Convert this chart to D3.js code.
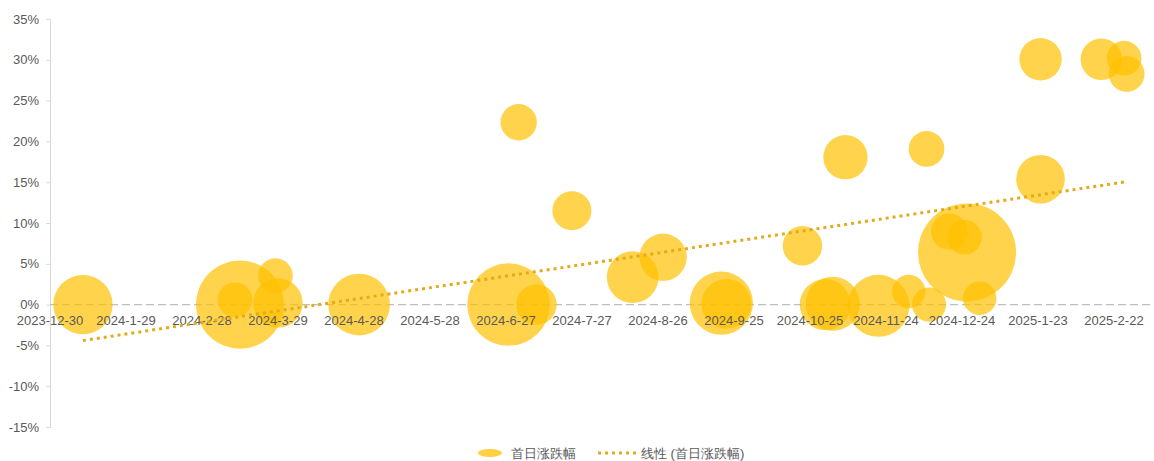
<!DOCTYPE html>
<html>
<head>
<meta charset="utf-8">
<script src="https://cdn.jsdelivr.net/npm/d3@7"></script>
<style>
  body { margin: 0; background: #fff; }
  text { font-family: "Liberation Sans", Arial, sans-serif; fill: #595959; }
</style>
</head>
<body>
<script>
// listing dates, first-day change (%), bubble size
const dates = ["2024-1-12", "2024-3-14", "2024-3-12", "2024-3-28", "2024-3-29", "2024-4-30",
  "2024-7-2", "2024-7-23", "2024-6-28", "2024-7-9", "2024-8-16", "2024-8-28",
  "2024-9-20", "2024-9-22", "2024-10-22", "2024-11-8", "2024-12-10", "2024-10-31",
  "2024-11-3", "2024-11-21", "2024-12-3", "2024-12-11", "2024-12-26", "2024-12-19",
  "2024-12-25", "2024-12-31", "2025-1-24", "2025-1-24", "2025-2-17", "2025-2-26", "2025-2-27"];
const changes = [0.0, 0.0, 0.6, 3.55, 0.2, 0.0,
  22.35, 11.5, 0.0, 0.0, 3.36, 5.8,
  0.17, 0.1, 7.2, 18.06, 19.08, 0.0,
  0.1, -0.15, 1.6, 0.0, 6.4, 8.95,
  8.26, 0.78, 30.07, 15.37, 30.07, 30.2, 28.27];
const sizes = [8.8, 19.4, 3.0, 3.0, 6.1, 9.5,
  3.3, 3.8, 17.0, 4.1, 6.7, 5.6,
  10.0, 6.2, 3.9, 4.9, 3.2, 6.5,
  7.3, 9.6, 2.8, 2.9, 24.0, 3.3,
  3.0, 2.8, 4.5, 5.9, 4.3, 3.0, 3.2];

const xTickLabels = ["2023-12-30", "2024-1-29", "2024-2-28", "2024-3-29", "2024-4-28", "2024-5-28",
  "2024-6-27", "2024-7-27", "2024-8-26", "2024-9-25", "2024-10-25", "2024-11-24",
  "2024-12-24", "2025-1-23", "2025-2-22"];
const yTicks = [-15, -10, -5, 0, 5, 10, 15, 20, 25, 30, 35];

// linear trend endpoints (first / last listing date)
const trendDates = ["2024-1-12", "2025-2-27"];
const trendValues = [-4.41, 15.07];

const seriesName = "首日涨跌幅";

const W = 1154, H = 461;
const parse = d3.timeParse("%Y-%m-%d");

const data = dates.map((d, i) => ({date: parse(d), v: changes[i], s: sizes[i]}));

const x = d3.scaleTime()
  .domain([parse("2023-12-30"), parse("2025-3-24")])
  .range([50, 1190]);
const y = d3.scaleLinear().domain([-15, 35]).range([427, 19]);
const r = d3.scaleSqrt().domain([0, 24]).range([0, 49]);

const svg = d3.select("body").append("svg")
  .attr("width", W)
  .attr("height", H);

// y axis
const yAxis = svg.append("g")
  .attr("transform", "translate(50,0)")
  .call(d3.axisLeft(y).tickValues(yTicks).tickSize(4).tickPadding(7).tickFormat(d => d + "%"));
yAxis.select(".domain").attr("stroke", "#d9d9d9");
yAxis.selectAll(".tick line").attr("stroke", "#d9d9d9");
yAxis.selectAll("text").attr("font-size", 13).attr("fill", "#595959")
  .style("font-family", "'Liberation Sans', Arial, sans-serif");

// zero line (x axis)
svg.append("line")
  .attr("x1", 50).attr("x2", W)
  .attr("y1", y(0)).attr("y2", y(0))
  .attr("stroke", "#bfbfbf")
  .attr("stroke-width", 1.3)
  .attr("stroke-dasharray", "8,4");

// bubbles
svg.append("g").selectAll("circle")
  .data(data)
  .enter().append("circle")
  .attr("cx", d => x(d.date))
  .attr("cy", d => y(d.v))
  .attr("r", d => r(d.s))
  .attr("fill", "#ffc000")
  .attr("fill-opacity", 0.7);

// x tick labels
svg.append("g").selectAll("text")
  .data(xTickLabels)
  .enter().append("text")
  .attr("x", d => x(parse(d)))
  .attr("y", y(0) + 20)
  .attr("text-anchor", "middle")
  .attr("font-size", 13)
  .text(d => d);

// trend line
const trend = trendDates.map((d, i) => [x(parse(d)), y(trendValues[i])]);
svg.append("path")
  .attr("d", d3.line()(trend))
  .attr("fill", "none")
  .attr("stroke", "#e0ac1c")
  .attr("stroke-width", 3)
  .attr("stroke-dasharray", "3,4");

// legend
const lg = svg.append("g").attr("transform", "translate(0,453)");
lg.append("ellipse")
  .attr("cx", 490).attr("cy", 0)
  .attr("rx", 12).attr("ry", 4)
  .attr("fill", "#ffc000").attr("fill-opacity", 0.75);
lg.append("text")
  .attr("x", 511).attr("y", 4.5)
  .attr("font-size", 13)
  .text(seriesName);
lg.append("line")
  .attr("x1", 598).attr("x2", 638)
  .attr("y1", 0).attr("y2", 0)
  .attr("stroke", "#e0ac1c")
  .attr("stroke-width", 3)
  .attr("stroke-dasharray", "3,4");
lg.append("text")
  .attr("x", 641).attr("y", 4.5)
  .attr("font-size", 13)
  .text("线性 (" + seriesName + ")");
</script>
</body>
</html>
